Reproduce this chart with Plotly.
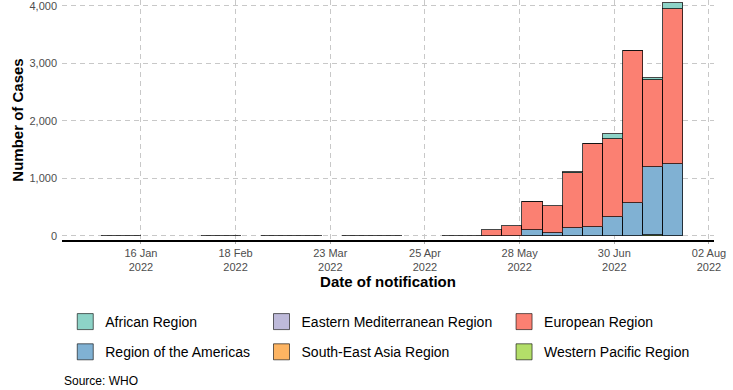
import plotly.graph_objects as go

# ---- data ----
weeks = ["2022-01-02", "2022-01-09", "2022-02-06", "2022-02-13", "2022-02-27",
         "2022-03-06", "2022-03-13", "2022-03-27", "2022-04-03", "2022-04-10",
         "2022-05-01", "2022-05-08", "2022-05-15", "2022-05-22", "2022-05-29",
         "2022-06-05", "2022-06-12", "2022-06-19", "2022-06-26", "2022-07-03",
         "2022-07-10", "2022-07-17"]

african = [3, 2, 2, 1, 2, 3, 2, 1, 2, 2, None, None, None, None, 5,
           None, 15, 5, 93, 5, 40, 98]
eastern_med = [None] * 22
european = [None, None, None, None, None, None, None, None, None, None, 2, 6,
            110, 177, 482, 469, 955, 1436, 1354, 2633, 1505, 2703]
americas = [None, None, None, None, None, None, None, None, None, None, None, None,
            None, None, 104, 58, 139, 156, 324, 573, 1192, 1244]
south_east_asia = [None] * 22
western_pacific = [None, None, None, None, None, None, None, None, None, None, None, None,
                   None, None, None, None, None, None, None, None, 10, 3]

tick_vals = ["2022-01-16", "2022-02-18", "2022-03-23", "2022-04-25",
             "2022-05-28", "2022-06-30", "2022-08-02"]
tick_text = ["16 Jan<br>2022", "18 Feb<br>2022", "23 Mar<br>2022", "25 Apr<br>2022",
             "28 May<br>2022", "30 Jun<br>2022", "02 Aug<br>2022"]

colors = {"African Region": "#8DD3C7", "Eastern Mediterranean Region": "#BEBADA",
          "European Region": "#FB8072", "Region of the Americas": "#80B1D3",
          "South-East Asia Region": "#FDB462", "Western Pacific Region": "#B3DE69"}
values = {"African Region": african, "Eastern Mediterranean Region": eastern_med,
          "European Region": european, "Region of the Americas": americas,
          "South-East Asia Region": south_east_asia, "Western Pacific Region": western_pacific}

WEEK_MS = 7 * 24 * 3600 * 1000
FONT = "Liberation Sans, Arial, sans-serif"

fig = go.Figure()
# stack order bottom -> top
for r in ["Western Pacific Region", "South-East Asia Region", "Region of the Americas",
          "European Region", "Eastern Mediterranean Region", "African Region"]:
    fig.add_trace(go.Bar(
        x=weeks, y=values[r], name=r, width=WEEK_MS, offset=0,
        marker=dict(color=colors[r], line=dict(color="rgba(0,0,0,0.72)", width=1)),
        showlegend=False, hovertemplate="%{x}: %{y}<extra>" + r + "</extra>"))

# legend entries (three columns, two rows each)
legend_cols = [["African Region", "Region of the Americas"],
               ["Eastern Mediterranean Region", "South-East Asia Region"],
               ["European Region", "Western Pacific Region"]]
legend_ids = ["legend", "legend2", "legend3"]
for lid, col in zip(legend_ids, legend_cols):
    for r in col:
        fig.add_trace(go.Scatter(
            x=[None], y=[None], mode="markers", name=r, legend=lid, legendgroup=r,
            marker=dict(symbol="square", size=16, color=colors[r],
                        line=dict(color="rgba(0,0,0,0.6)", width=1)),
            showlegend=True))

leg_common = dict(orientation="v", yanchor="top", xanchor="left",
                  font=dict(family=FONT, size=14, color="#000000"),
                  bgcolor="rgba(0,0,0,0)", tracegroupgap=9, itemwidth=30)

fig.update_layout(
    width=733, height=390,
    margin=dict(l=62, r=19, t=0, b=150, autoexpand=False),
    plot_bgcolor="white", paper_bgcolor="white",
    barmode="stack", bargap=0,
    font=dict(family=FONT),
    legend=dict(x=0.005, y=-0.275, **leg_common),
    legend2=dict(x=0.306, y=-0.275, **leg_common),
    legend3=dict(x=0.678, y=-0.275, **leg_common),
    xaxis=dict(
        type="date", range=["2021-12-19 12:00", "2022-08-03 18:00"],
        tickvals=tick_vals, ticktext=tick_text, automargin=False,
        tickfont=dict(family=FONT, size=11, color="#4D4D4D"),
        showgrid=True, gridcolor="#C8C8C8", griddash="5px,4px", gridwidth=1,
        showline=True, linecolor="black", linewidth=1.5,
        ticks="outside", ticklen=2, tickcolor="#AAAAAA",
        title=dict(text="<b>Date of notification</b>", standoff=3,
                   font=dict(family=FONT, size=15, color="black")),
        zeroline=False),
    yaxis=dict(
        range=[-70, 4099], automargin=False,
        tickvals=[0, 1000, 2000, 3000, 4000], tickformat=",",
        tickfont=dict(family=FONT, size=11, color="#4D4D4D"),
        ticklabeloverflow="allow", ticklabelstandoff=4,
        showgrid=True, gridcolor="#C8C8C8", griddash="5px,4px", gridwidth=1,
        showline=False, zeroline=False, ticks="",
        title=dict(text="<b>Number of Cases</b>", standoff=2,
                   font=dict(family=FONT, size=15, color="black"))),
    annotations=[dict(text="Source: WHO", x=0, y=-0.5875, xref="paper", yref="paper",
                      xanchor="left", yanchor="middle", showarrow=False,
                      font=dict(family=FONT, size=12, color="black"))],
)

fig.write_html("out.html", config={"displayModeBar": False},
               post_script="document.body.style.margin='0';document.body.style.padding='0';")
